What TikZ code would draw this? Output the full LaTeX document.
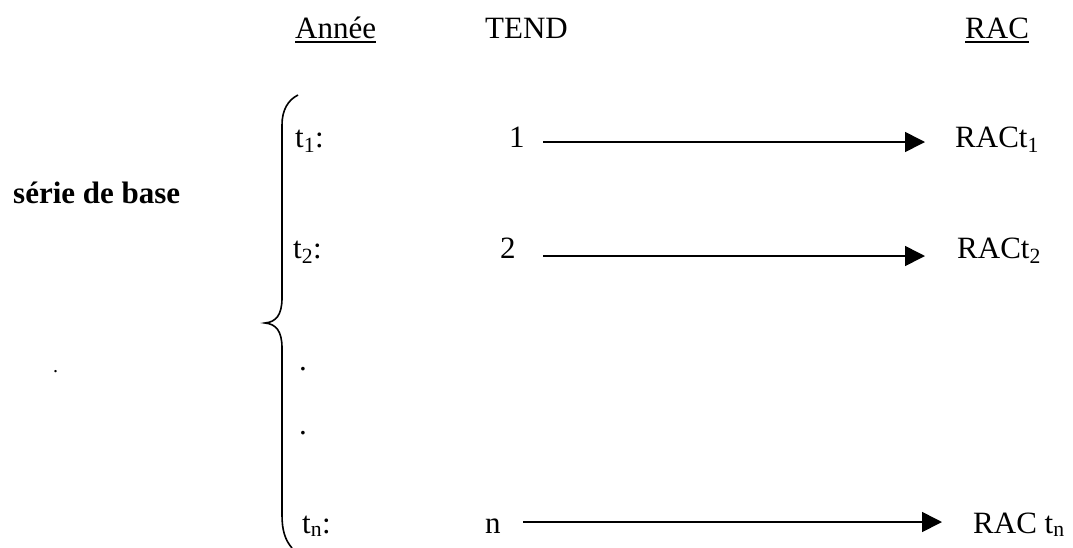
\documentclass[tikz,border=0pt]{standalone}
\usepackage{fontspec}
\setmainfont{Liberation Serif}
\usetikzlibrary{arrows.meta}
\begin{document}
\begin{tikzpicture}[x=1pt,y=-1pt,
  txt/.style={inner sep=0pt, anchor=base west, font=\fontsize{31}{37}\selectfont},
  arr/.style={line width=1.6pt, -{Triangle[length=20pt,width=20pt]}},
  ul/.style={line width=2pt},
  brace/.style={line width=1.6pt}]
\useasboundingbox (0,0) rectangle (1073,547);
% headers
\node[txt] (ann) at (295,38) {Année};
\node[txt] (tend) at (485,38) {TEND};
\node[txt] (rac) at (965,38) {RAC};
\draw[ul] ([yshift=-4pt]ann.base west) -- ([yshift=-4pt]ann.base east);
\draw[ul] ([yshift=-4pt]rac.base west) -- ([yshift=-4pt]rac.base east);
% left label
\node[txt, font=\bfseries\fontsize{31}{37}\selectfont] (serie) at (13,203) {série de base};
\node[txt, font=\fontsize{20}{24}\selectfont] (ldot) at (53,372) {.};
% brace
\draw[brace] (298,95) .. controls (288,100) and (282,110) .. (282,125) -- (282,298)
  .. controls (282,315) and (276,322) .. (265,323)
  .. controls (276,324) and (282,331) .. (282,348) -- (282,515)
  .. controls (282,530) and (285,540) .. (292,548);
% rows
\node[txt] (t1) at (295,147) {t\textsubscript{1}:};
\node[txt] (one) at (509,147) {1};
\node[txt] (rac1) at (955,147) {RACt\textsubscript{1}};
\node[txt] (t2) at (293,258) {t\textsubscript{2}:};
\node[txt] (two) at (500,258) {2};
\node[txt] (rac2) at (957,258) {RACt\textsubscript{2}};
\node[txt] (d1) at (299,370) {.};
\node[txt] (d2) at (299,434) {.};
\node[txt] (tn) at (302,533) {t\textsubscript{n}:};
\node[txt] (nn) at (485,533) {n};
\node[txt] (racn) at (973,533) {RAC t\textsubscript{n}};
% arrows
\coordinate (a1s) at (543,142); \coordinate (a1e) at (925,142);
\coordinate (a2s) at (543,256); \coordinate (a2e) at (925,256);
\coordinate (ans) at (523,522); \coordinate (ane) at (942,522);
\draw[arr] (a1s) -- (a1e);
\draw[arr] (a2s) -- (a2e);
\draw[arr] (ans) -- (ane);
\end{tikzpicture}
\end{document}
